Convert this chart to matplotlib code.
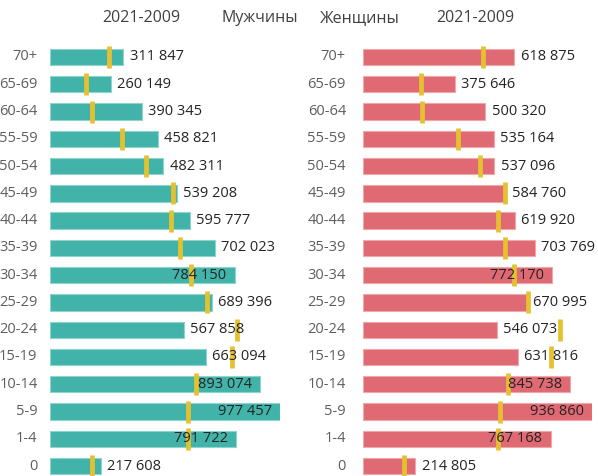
import matplotlib
matplotlib.use("Agg")
import matplotlib.pyplot as plt

categories = ["70+", "65-69", "60-64", "55-59", "50-54", "45-49", "40-44", "35-39",
              "30-34", "25-29", "20-24", "15-19", "10-14", "5-9", "1-4", "0"]
men_2021 = [311847, 260149, 390345, 458821, 482311, 539208, 595777, 702023,
            784150, 689396, 567858, 663094, 893074, 977457, 791722, 217608]
men_2009 = [251000, 153000, 180000, 306000, 409000, 523000, 514000, 554000,
            598000, 667000, 796000, 775000, 620000, 587000, 587000, 178000]
women_2021 = [618875, 375646, 500320, 535164, 537096, 584760, 619920, 703769,
              772170, 670995, 546073, 631816, 845738, 936860, 767168, 214805]
women_2009 = [492000, 236000, 242000, 387000, 478000, 579000, 551000, 582000,
              616000, 673000, 806000, 767000, 594000, 559000, 553000, 167000]

W, H = 598, 476
fig = plt.figure(figsize=(W / 100, H / 100), dpi=100)
plt.rcParams['font.family'] = ['Open Sans', 'DejaVu Sans']

TEXT = "#252423"
CAT = "#605E5C"
MARK = "#E5C12F"

row_top = 57
row_gap = 27.27
n = len(categories)
ax_top = row_top - row_gap / 2
ax_h = row_gap * n


def make_panel(x0, x1, vals, marks, color, edge, cat_x):
    ax = fig.add_axes([x0 / W, 1 - (ax_top + ax_h) / H, (x1 - x0) / W, ax_h / H])
    ys = list(range(n))
    vmax = max(vals)
    ax.barh(ys, vals, height=0.6, color=color, edgecolor=edge, linewidth=0.8)
    ax.plot(marks, ys, linestyle="none", marker="|", markersize=15.5,
            markeredgewidth=3.4, color=MARK, zorder=3)
    ax.set_xlim(0, vmax)
    ax.set_ylim(n - 0.5, -0.5)
    ax.axis("off")
    for y, v in zip(ys, vals):
        lab = f"{v:,}".replace(",", " ")
        if v / vmax > 0.77:
            ax.annotate(lab, (v, y), xytext=(-6, 0), textcoords="offset points",
                        ha="right", va="center", fontsize=10.5, color=TEXT, zorder=4)
        else:
            ax.annotate(lab, (v, y), xytext=(4.5, 0), textcoords="offset points",
                        ha="left", va="center", fontsize=10.5, color=TEXT, zorder=4)
    for y, c in zip(ys, categories):
        fig.text(cat_x / W, 1 - (row_top + y * row_gap) / H, c, ha="right",
                 va="center", fontsize=10.5, color=CAT)
    return ax


make_panel(50, 280, men_2021, men_2009, "#41B3A9", "#8ED3CC", 37.5)
make_panel(362.7, 592.3, women_2021, women_2009, "#E06A73", "#EFA7AC", 346)

hy = 1 - 18 / H
fig.text(141 / W, hy, "2021-2009", ha="center", va="center", fontsize=11.5, color="#404040")
fig.text(260 / W, hy, "Мужчины", ha="center", va="center", fontsize=11.5, color="#404040")
fig.text(360 / W, hy, "Женщины", ha="center", va="center", fontsize=11.5, color="#404040")
fig.text(475 / W, hy, "2021-2009", ha="center", va="center", fontsize=11.5, color="#404040")

fig.savefig("out.png", dpi=100)
